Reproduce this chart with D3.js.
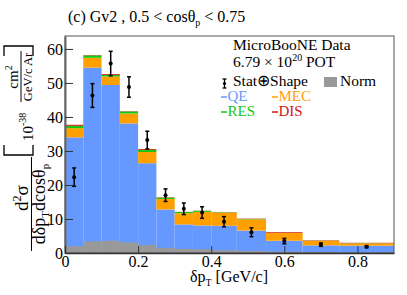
<!doctype html>
<html>
<head>
<meta charset="utf-8"/>
<style>
  body, html { margin: 0; padding: 0; background: white; }
  svg text { font-family: "Liberation Serif", "Times New Roman", serif; }
</style>
<script src="https://d3js.org/d3.v7.min.js"></script>
</head>
<body>
<svg width="407" height="295"></svg>
<script>
var binEdges = [0, 0.05, 0.1, 0.15, 0.2, 0.25, 0.3, 0.35, 0.4, 0.47, 0.55, 0.65, 0.75, 0.9];
var qe   = [34.0, 54.5, 49.4, 38.1, 26.4, 12.8, 8.4, 8.1, 8.0, 6.6, 3.6, 2.25, 2.15];
var mec  = [2.7, 2.9, 2.5, 2.9, 3.3, 3.1, 3.3, 4.0, 3.9, 3.3, 2.3, 1.35, 0.7];
var res  = [0.7, 0.7, 0.45, 0.6, 0.6, 0.4, 0.35, 0.3, 0.1, 0.1, 0.05, 0.05, 0.05];
var dis  = [0.3, 0.1, 0.25, 0.1, 0.25, 0.1, 0.05, 0.05, 0.05, 0.1, 0.2, 0.1, 0.1];
var norm = [2.0, 3.4, 3.6, 3.1, 2.35, 1.5, 1.2, 1.1, 0.8, 0.6, 0.4, 0.3, 0.2];
var dataVal = [22.3, 46.3, 55.7, 48.8, 33.2, 17.0, 13.0, 11.9, 9.2, 6.1, 3.5, 2.45, 1.85];
var dataErr = [2.7, 3.5, 3.6, 3.0, 2.6, 1.85, 1.7, 1.7, 1.5, 1.3, 0.8, 0.5, 0.3];
var yTicks = [0, 10, 20, 30, 40, 50, 60];
var xTicks = [0, 0.2, 0.4, 0.6, 0.8];

var colors = {qe: "#6699ff", mec: "#ffa000", res: "#14c814", dis: "#d21414", norm: "#999999"};

var svg = d3.select("svg");
var x = d3.scaleLinear().domain([0, 0.9]).range([65, 394]);
var y = d3.scaleLinear().domain([0, 63.8]).range([253, 36]);

// stacked histogram, QE at the bottom
var comps = [["qe", qe], ["mec", mec], ["res", res], ["dis", dis]];
var base = binEdges.slice(1).map(function() { return 0; });
comps.forEach(function(c) {
  var vals = c[1];
  svg.append("g").selectAll("rect")
    .data(vals).enter().append("rect")
      .attr("x", function(d, i) { return x(binEdges[i]); })
      .attr("width", function(d, i) { return x(binEdges[i + 1]) - x(binEdges[i]); })
      .attr("y", function(d, i) { return y(base[i] + d); })
      .attr("height", function(d, i) { return y(base[i]) - y(base[i] + d); })
      .attr("fill", colors[c[0]]);
  vals.forEach(function(d, i) { base[i] += d; });
});

// norm uncertainty band
svg.append("g").selectAll("rect")
  .data(norm).enter().append("rect")
    .attr("x", function(d, i) { return x(binEdges[i]); })
    .attr("width", function(d, i) { return x(binEdges[i + 1]) - x(binEdges[i]); })
    .attr("y", function(d) { return y(d); })
    .attr("height", function(d) { return y(0) - y(d); })
    .attr("fill", colors.norm);

// frame
svg.append("rect")
  .attr("x", 65).attr("y", 36).attr("width", 329).attr("height", 217)
  .attr("fill", "none").attr("stroke", "#555").attr("stroke-width", 1);

// axes
var yAxis = svg.append("g")
  .attr("transform", "translate(65,0)")
  .call(d3.axisLeft(y).tickValues(yTicks).tickSizeInner(-8).tickSizeOuter(0).tickPadding(2));
yAxis.select(".domain").attr("stroke", "#666").attr("stroke-width", 2);
yAxis.selectAll(".tick line").attr("stroke", "#333");
yAxis.selectAll("text").attr("font-size", 16).attr("fill", "#000")
  .style("font-family", "Liberation Serif");

var xAxis = svg.append("g")
  .attr("transform", "translate(0,253)")
  .call(d3.axisBottom(x).tickValues(xTicks).tickSizeInner(-7).tickSizeOuter(0).tickPadding(3)
    .tickFormat(function(d) { return d === 0 ? "0" : d3.format(".1f")(d); }));
xAxis.select(".domain").attr("stroke", "#333").attr("stroke-width", 1.5);
xAxis.selectAll(".tick line").attr("stroke", "#333");
xAxis.selectAll("text").attr("font-size", 16).attr("fill", "#000")
  .style("font-family", "Liberation Serif");

// data points
var pts = svg.append("g");
dataVal.forEach(function(d, i) {
  var cx = x((binEdges[i] + binEdges[i + 1]) / 2);
  var y0 = y(d - dataErr[i]), y1 = y(d + dataErr[i]);
  pts.append("line").attr("x1", cx).attr("x2", cx).attr("y1", y0).attr("y2", y1)
    .attr("stroke", "#000").attr("stroke-width", 1.5);
  [y0, y1].forEach(function(yy) {
    pts.append("line").attr("x1", cx - 2).attr("x2", cx + 2).attr("y1", yy).attr("y2", yy)
      .attr("stroke", "#000").attr("stroke-width", 1.5);
  });
  pts.append("circle").attr("cx", cx).attr("cy", y(d)).attr("r", 2).attr("fill", "#000");
});

// title
var title = svg.append("text").attr("x", 68).attr("y", 22).attr("font-size", 16);
title.append("tspan").text("(c) Gv2 , 0.5 < cosθ");
title.append("tspan").attr("font-size", 10).attr("dy", 4).text("p");
title.append("tspan").attr("dy", -4).text(" < 0.75");

// x axis title
var xt = svg.append("text").attr("x", 229).attr("y", 282).attr("text-anchor", "middle").attr("font-size", 16);
xt.append("tspan").text("δp");
xt.append("tspan").attr("font-size", 10).attr("dy", 4).text("T");
xt.append("tspan").attr("dy", -4).text(" [GeV/c]");

// y axis title, rotated: local x = -pageY, local y = pageX
var yt = svg.append("g").attr("transform", "rotate(-90)");
var num = yt.append("text").attr("x", -198).attr("y", 28).attr("text-anchor", "middle").attr("font-size", 19);
num.append("tspan").text("d");
num.append("tspan").attr("font-size", 12).attr("dy", -7).text("2");
num.append("tspan").attr("dy", 7).text("σ");
yt.append("line").attr("x1", -251).attr("x2", -157).attr("y1", 31.5).attr("y2", 31.5)
  .attr("stroke", "#000").attr("stroke-width", 1);
var den = yt.append("text").attr("x", -204).attr("y", 45).attr("text-anchor", "middle").attr("font-size", 18);
den.append("tspan").text("dδp");
den.append("tspan").attr("font-size", 11).attr("dy", 4).text("T");
den.append("tspan").attr("dy", -4).text("dcosθ");
den.append("tspan").attr("font-size", 11).attr("dy", 4).text("p");

// [ 10^-38 cm2 / (GeV/c Ar) ]
yt.append("path").attr("d", "M-145,4 L-155,4 L-155,33 L-145,33")
  .attr("fill", "none").attr("stroke", "#000").attr("stroke-width", 1.3);
yt.append("path").attr("d", "M-56,4 L-46,4 L-46,33 L-56,33")
  .attr("fill", "none").attr("stroke", "#000").attr("stroke-width", 1.3);
var pw = yt.append("text").attr("x", -141).attr("y", 33).attr("font-size", 15);
pw.append("tspan").text("10");
pw.append("tspan").attr("font-size", 10).attr("dy", -7).text("-38");
var cm = yt.append("text").attr("x", -77).attr("y", 18).attr("text-anchor", "middle").attr("font-size", 15);
cm.append("tspan").text("cm");
cm.append("tspan").attr("font-size", 10).attr("dy", -6).text("2");
yt.append("line").attr("x1", -102).attr("x2", -51).attr("y1", 21).attr("y2", 21)
  .attr("stroke", "#000").attr("stroke-width", 1);
yt.append("text").attr("x", -77).attr("y", 32).attr("text-anchor", "middle").attr("font-size", 12.5)
  .text("GeV/c Ar");

// legend
var lg = svg.append("g").attr("font-size", 15.5);
lg.append("text").attr("x", 233).attr("y", 50).text("MicroBooNE Data");
var pot = lg.append("text").attr("x", 233).attr("y", 67);
pot.append("tspan").text("6.79 × 10");
pot.append("tspan").attr("font-size", 10).attr("dy", -6).text("20");
pot.append("tspan").attr("dy", 6).text(" POT");
// error bar marker
lg.append("line").attr("x1", 224.5).attr("x2", 224.5).attr("y1", 79).attr("y2", 88).attr("stroke", "#000").attr("stroke-width", 1.3);
lg.append("line").attr("x1", 222.5).attr("x2", 226.5).attr("y1", 79).attr("y2", 79).attr("stroke", "#000").attr("stroke-width", 1.3);
lg.append("line").attr("x1", 222.5).attr("x2", 226.5).attr("y1", 88).attr("y2", 88).attr("stroke", "#000").attr("stroke-width", 1.3);
lg.append("circle").attr("cx", 224.5).attr("cy", 83.5).attr("r", 1.6).attr("fill", "#000");
lg.append("text").attr("x", 233).attr("y", 86).text("Stat⊕Shape");
lg.append("rect").attr("x", 324).attr("y", 77).attr("width", 13).attr("height", 10).attr("fill", colors.norm);
lg.append("text").attr("x", 340).attr("y", 86).text("Norm");

var items = [
  ["QE", colors.qe, 221, 101], ["MEC", colors.mec, 272, 101],
  ["RES", colors.res, 221, 116], ["DIS", colors.dis, 272, 116]
];
items.forEach(function(it) {
  lg.append("line").attr("x1", it[2]).attr("x2", it[2] + 6).attr("y1", it[3] - 4).attr("y2", it[3] - 4)
    .attr("stroke", it[1]).attr("stroke-width", 1.5);
  lg.append("text").attr("x", it[2] + 6.5).attr("y", it[3]).attr("font-size", 15).attr("fill", it[1]).text(it[0]);
});
</script>
</body>
</html>
